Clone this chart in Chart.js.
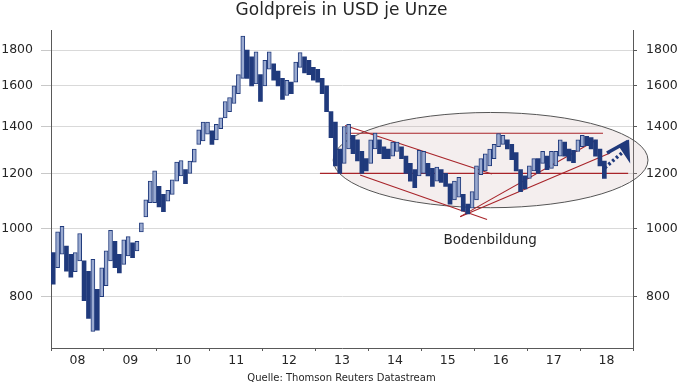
<!DOCTYPE html>
<html>
<head>
<meta charset="utf-8">
<script src="https://cdn.jsdelivr.net/npm/chart.js@4.4.1/dist/chart.umd.min.js"></script>
<style>
  html, body { margin: 0; padding: 0; background: #fff; }
  #wrap { width: 683px; height: 384px; }
</style>
</head>
<body>
<div id="wrap"><canvas id="gold"></canvas></div>
<script>
// Monthly trading range (low / high), Jan 2008 .. Jun 2018, USD per ounce
const lows = [
  834, 880, 920, 870, 853, 869, 900, 790, 745, 714, 717, 800,   // 2008
  830, 900, 880, 865, 890, 915, 910, 930, 990, 1040, 1090, 1090, // 2009
  1075, 1058, 1095, 1120, 1170, 1190, 1160, 1200, 1245, 1320, 1335, 1365, // 2010
  1320, 1340, 1390, 1440, 1470, 1510, 1560, 1640, 1640, 1600, 1610, 1520, // 2011
  1600, 1690, 1630, 1600, 1530, 1550, 1560, 1620, 1700, 1670, 1660, 1630, // 2012
  1620, 1560, 1470, 1350, 1230, 1200, 1240, 1300, 1280, 1250, 1200, 1210, // 2013
  1240, 1300, 1280, 1260, 1260, 1270, 1290, 1260, 1200, 1170, 1145, 1190, // 2014
  1200, 1190, 1150, 1170, 1165, 1150, 1085, 1100, 1110, 1060, 1050, 1070, // 2015
  1100, 1195, 1210, 1230, 1260, 1310, 1320, 1300, 1255, 1210, 1130, 1140, // 2016
  1180, 1210, 1200, 1240, 1215, 1220, 1230, 1270, 1270, 1250, 1243, 1290, // 2017
  1310, 1315, 1300, 1270, 1230, 1180                                     // 2018
];
const highs = [
  925, 990, 1008, 945, 920, 925, 985, 900, 870, 905, 820, 880,
  930, 995, 960, 920, 965, 975, 955, 960, 1020, 1100, 1170, 1210,
  1150, 1120, 1135, 1175, 1245, 1252, 1215, 1250, 1300, 1385, 1420, 1420,
  1380, 1410, 1440, 1520, 1540, 1600, 1660, 1885, 1800, 1760, 1790, 1660,
  1740, 1790, 1720, 1680, 1640, 1630, 1620, 1730, 1785, 1760, 1740, 1700,
  1690, 1640, 1600, 1470, 1420, 1300, 1400, 1410, 1360, 1340, 1290, 1260,
  1340, 1370, 1340, 1310, 1300, 1330, 1330, 1310, 1270, 1240, 1215, 1295,
  1290, 1240, 1220, 1225, 1215, 1200, 1160, 1170, 1185, 1120, 1085, 1130,
  1230, 1260, 1280, 1300, 1320, 1368, 1360, 1340, 1320, 1285, 1215, 1190,
  1230, 1260, 1260, 1290, 1270, 1290, 1290, 1340, 1330, 1300, 1295, 1340,
  1360, 1355, 1350, 1340, 1300, 1250
];
const yearLabels = ['08', '09', '10', '11', '12', '13', '14', '15', '16', '17', '18'];
const yTicks = [800, 1000, 1200, 1400, 1600, 1800];

// Drawn annotations, in [month index, price]
const trendLines = [
  [[66.7, 1369], [125.2, 1369]],
  [[61.0, 1200], [130.9, 1200]],
  [[66.7, 1405], [100.0, 1198]],
  [[70.1, 1194], [98.9, 1031]],
  [[92.8, 1041], [123.6, 1338]],
  [[92.8, 1041], [126.8, 1283]]
];
const ellipseBox = { left: 64.0, right: 135.4, top: 1466, bottom: 1072 };
const arrowShaft = [[126.1, 1283], [130.9, 1334]];
const arrowHead = [[130.9, 1334], [129.05, 1312], [131.1, 1254]];
const dottedArrow = [[125.6, 1222], [129.7, 1287]];
const noteLabel = { text: 'Bodenbildung', x: 99.6, y: 963 };

const NAVY = '#203A7C';
const FONT = 'DejaVu Sans';

const overlay = {
  id: 'overlay',
  beforeDatasetsDraw(chart) {
    const { ctx, scales: { x, y } } = chart;
    const l = x.getPixelForValue(ellipseBox.left), r = x.getPixelForValue(ellipseBox.right);
    const t = y.getPixelForValue(ellipseBox.top), b = y.getPixelForValue(ellipseBox.bottom);
    ctx.save();
    ctx.beginPath();
    ctx.ellipse((l + r) / 2, (t + b) / 2, (r - l) / 2, (b - t) / 2, 0, 0, Math.PI * 2);
    ctx.fillStyle = 'rgba(200,170,170,0.2)';
    ctx.fill();
    ctx.strokeStyle = '#555';
    ctx.lineWidth = 1;
    ctx.stroke();

    ctx.strokeStyle = '#A8242A';
    ctx.lineWidth = 1.1;
    trendLines.forEach(([p, q]) => {
      ctx.beginPath();
      ctx.moveTo(x.getPixelForValue(p[0]), y.getPixelForValue(p[1]));
      ctx.lineTo(x.getPixelForValue(q[0]), y.getPixelForValue(q[1]));
      ctx.stroke();
    });
    ctx.restore();
  },
  afterDatasetsDraw(chart) {
    const { ctx, scales: { x, y } } = chart;
    const px = p => [x.getPixelForValue(p[0]), y.getPixelForValue(p[1])];
    ctx.save();
    ctx.strokeStyle = NAVY;
    ctx.fillStyle = NAVY;

    // solid arrow
    ctx.lineWidth = 3.5;
    ctx.beginPath();
    ctx.moveTo(...px(arrowShaft[0]));
    ctx.lineTo(...px(arrowShaft[1]));
    ctx.stroke();
    ctx.lineWidth = 2;
    ctx.beginPath();
    arrowHead.forEach((p, i) => i ? ctx.lineTo(...px(p)) : ctx.moveTo(...px(p)));
    ctx.closePath();
    ctx.fill();
    ctx.stroke();

    // dotted arrow
    ctx.lineWidth = 3.5;
    ctx.setLineDash([2.5, 2.5]);
    ctx.beginPath();
    ctx.moveTo(...px(dottedArrow[0]));
    ctx.lineTo(...px(dottedArrow[1]));
    ctx.stroke();
    ctx.setLineDash([]);

    ctx.font = '13.5px "' + FONT + '"';
    ctx.fillStyle = '#262626';
    ctx.textAlign = 'center';
    ctx.textBaseline = 'middle';
    ctx.fillText(noteLabel.text, x.getPixelForValue(noteLabel.x), y.getPixelForValue(noteLabel.y));
    ctx.restore();
  }
};

const rising = lows.map((lo, i) => i > 0 && lo + highs[i] > lows[i - 1] + highs[i - 1]);

new Chart(document.getElementById('gold'), {
  type: 'bar',
  data: {
    datasets: [{
      data: lows.map((lo, i) => ({ x: i + 0.5, y: [lo, highs[i]] })),
      backgroundColor: rising.map(up => up ? '#9AAAD0' : NAVY),
      borderColor: NAVY,
      borderWidth: rising.map(up => up ? 1 : 0),
      borderSkipped: false,
      barThickness: 4
    }]
  },
  options: {
    responsive: true,
    maintainAspectRatio: false,
    animation: false,
    layout: { padding: 0 },
    plugins: {
      legend: { display: false },
      tooltip: { enabled: false },
      title: {
        display: true,
        text: 'Goldpreis in USD je Unze',
        color: '#262626',
        font: { family: FONT, size: 17, weight: 'normal' },
        padding: { top: 0, bottom: 10 }
      },
      subtitle: {
        display: true,
        position: 'bottom',
        text: 'Quelle: Thomson Reuters Datastream',
        color: '#262626',
        font: { family: FONT, size: 10 },
        padding: { top: 2, bottom: 0 }
      }
    },
    scales: {
      x: {
        type: 'linear',
        offset: false,
        min: 0,
        max: 132,
        afterBuildTicks: s => { s.ticks = Array.from({ length: 23 }, (_, i) => ({ value: i * 6 })); },
        afterFit: s => { s.height = 22; },
        ticks: {
          autoSkip: false,
          maxRotation: 0,
          padding: 2,
          color: '#262626',
          font: { family: FONT, size: 12.5 },
          callback: v => v % 12 === 6 ? yearLabels[(v - 6) / 12] : ''
        },
        grid: {
          offset: false,
          drawOnChartArea: false,
          tickLength: 3,
          tickColor: c => c.tick && c.tick.value % 12 === 0 ? '#595959' : 'rgba(0,0,0,0)'
        },
        border: { color: '#595959' }
      },
      y: {
        type: 'logarithmic',
        position: 'left',
        min: 676,
        max: 1920,
        afterBuildTicks: s => { s.ticks = yTicks.map(v => ({ value: v })); },
        afterFit: s => { s.width = 51; },
        ticks: { padding: 8, color: '#262626', font: { family: FONT, size: 12.5 }, callback: v => String(v) },
        grid: { color: '#D9D9D9', tickLength: 10, tickColor: '#C8C8C8' },
        border: { color: '#595959' }
      },
      y2: {
        type: 'logarithmic',
        position: 'right',
        min: 676,
        max: 1920,
        afterBuildTicks: s => { s.ticks = yTicks.map(v => ({ value: v })); },
        afterFit: s => { s.width = 50; },
        ticks: { padding: 9, color: '#262626', font: { family: FONT, size: 12.5 }, callback: v => String(v) },
        grid: { drawOnChartArea: false, tickLength: 4, tickColor: '#595959' },
        border: { color: '#595959' }
      }
    }
  },
  plugins: [overlay]
});
</script>
</body>
</html>
